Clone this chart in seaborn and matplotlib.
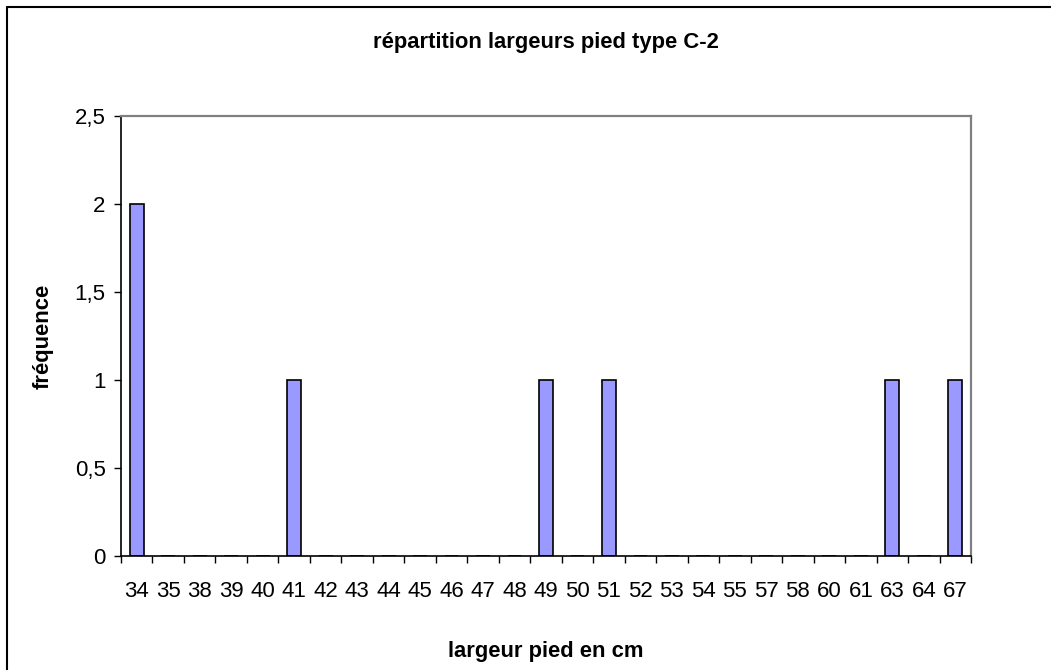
import matplotlib
matplotlib.use('Agg')
import matplotlib.pyplot as plt
import matplotlib.lines as mlines
import matplotlib.ticker as mticker
import pandas as pd
import seaborn as sns
import numpy as np

# Data
largeurs = ['34', '35', '38', '39', '40', '41', '42', '43', '44', '45', '46', '47', '48', '49',
            '50', '51', '52', '53', '54', '55', '57', '58', '60', '61', '63', '64', '67']
frequence = [2, 0, 0, 0, 0, 1, 0, 0, 0, 0, 0, 0, 0, 1,
             0, 1, 0, 0, 0, 0, 0, 0, 0, 0, 1, 0, 1]
y_ticks = [0, 0.5, 1, 1.5, 2, 2.5]

df = pd.DataFrame({'largeur': largeurs, 'frequence': frequence})

sns.set_style('white')
plt.rcParams['font.family'] = ['Liberation Sans', 'DejaVu Sans']
plt.rcParams['text.color'] = 'black'
plt.rcParams['axes.labelcolor'] = 'black'
plt.rcParams['xtick.color'] = 'black'
plt.rcParams['ytick.color'] = 'black'

fig = plt.figure(figsize=(10.51, 6.70), dpi=100)
ax = fig.add_axes([121 / 1051, 1 - 556 / 670, 850 / 1051, 440 / 670])

sns.barplot(data=df, x='largeur', y='frequence', order=largeurs, color='#9999FF',
            saturation=1, width=0.44, edgecolor='black', linewidth=1.2, ax=ax)

ax.set_ylim(0, 2.5)
ax.set_xlim(-0.5, len(largeurs) - 0.5)
ax.set_yticks(y_ticks)
ax.yaxis.set_major_formatter(mticker.FuncFormatter(lambda v, p: ('%g' % v).replace('.', ',')))

# category labels centered, tick marks between categories
ax.set_xticks(range(len(largeurs)))
ax.set_xticklabels(largeurs)
ax.set_xticks(np.arange(-0.5, len(largeurs)), minor=True)
ax.tick_params(axis='x', which='major', length=0, pad=18, labelsize=16)
ax.tick_params(axis='x', which='minor', length=5, width=1, color='black', direction='out', bottom=True)
ax.tick_params(axis='y', length=5, width=1, color='black', direction='out', left=True, pad=6, labelsize=16)

for s in ['left', 'bottom']:
    ax.spines[s].set_color('black')
    ax.spines[s].set_linewidth(1.2)
for s in ['top', 'right']:
    ax.spines[s].set_color('#808080')
    ax.spines[s].set_linewidth(1.6)

ax.set_title('répartition largeurs pied type C-2', fontsize=15.8, fontweight='bold', pad=49)
ax.set_xlabel('largeur pied en cm', fontsize=15.8, fontweight='bold', labelpad=28)
ax.set_ylabel('fréquence', fontsize=15.8, fontweight='bold', labelpad=15)

# outer chart frame (left and top edges only visible)
fig.add_artist(mlines.Line2D([7 / 1051, 7 / 1051], [0, 1 - 7 / 670], transform=fig.transFigure,
                             color='black', linewidth=1.5))
fig.add_artist(mlines.Line2D([7 / 1051, 1], [1 - 7 / 670, 1 - 7 / 670], transform=fig.transFigure,
                             color='black', linewidth=1.5))

fig.savefig('out.png', dpi=100)
